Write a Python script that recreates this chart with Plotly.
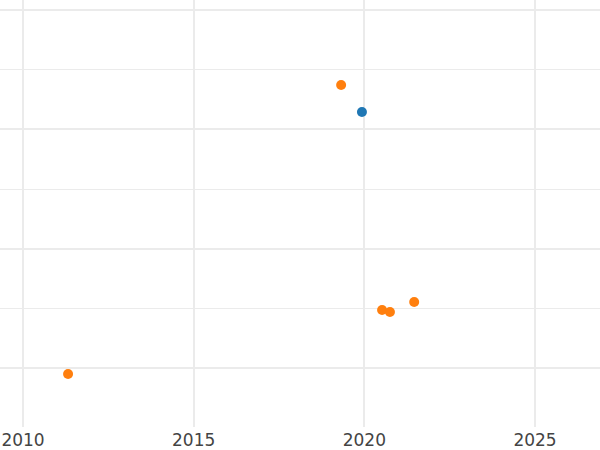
import plotly.graph_objects as go

# Data
orange_year = [2019.32, 2011.32, 2020.52, 2020.75, 2021.46]
orange_value = [3.372, 0.950, 1.486, 1.469, 1.553]
blue_year = [2019.93]
blue_value = [3.146]

x_tick_vals = [2010, 2015, 2020, 2025]
x_tick_text = ["2010", "2015", "2020", "2025"]

fig = go.Figure()
fig.add_trace(go.Scatter(x=blue_year, y=blue_value, mode="markers",
                         marker=dict(color="#1f77b4", size=10), name="A"))
fig.add_trace(go.Scatter(x=orange_year, y=orange_value, mode="markers",
                         marker=dict(color="#ff7f0e", size=10), name="B"))

fig.update_layout(
    width=600, height=450,
    margin=dict(l=0, r=0, t=0, b=23),
    plot_bgcolor="white", paper_bgcolor="white",
    showlegend=False,
    font=dict(family="DejaVu Sans", size=17, color="#444444"),
)
fig.update_xaxes(range=[2009.326, 2026.904], tickvals=x_tick_vals, ticktext=x_tick_text,
                 showgrid=True, gridcolor="#ebebeb", gridwidth=1.5, zeroline=False,
                 showline=False, ticks="", ticklabelstandoff=1)
fig.update_yaxes(range=[0.505, 4.085], dtick=1, tick0=0,
                 showgrid=True, gridcolor="#ebebeb", gridwidth=2, zeroline=False,
                 minor=dict(dtick=0.5, tick0=0, showgrid=True, gridcolor="#ebebeb", gridwidth=1),
                 showticklabels=False, showline=False, ticks="")

fig.write_html("out.html", config={"displayModeBar": False},
               post_script="document.body.style.margin='0';document.body.style.padding='0';")
